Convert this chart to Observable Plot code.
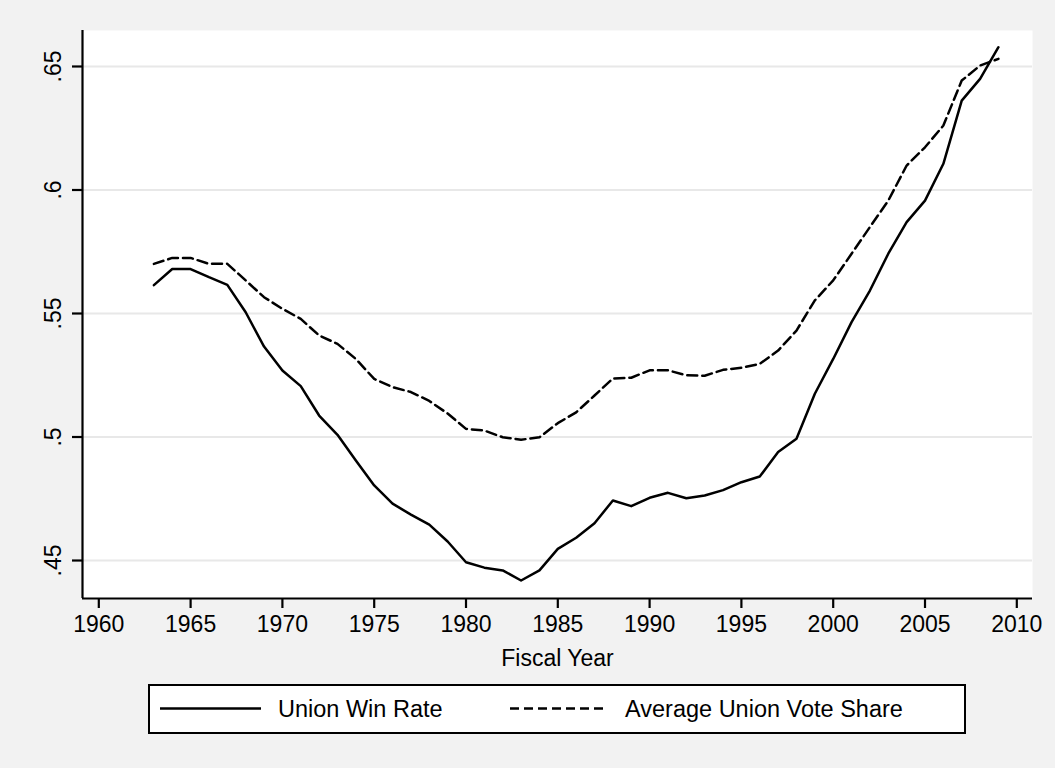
<!DOCTYPE html>
<html>
<head>
<meta charset="utf-8">
<script src="https://cdn.jsdelivr.net/npm/d3@7"></script>
<script src="https://cdn.jsdelivr.net/npm/@observablehq/plot@0.6"></script>
<style>
html, body { margin: 0; padding: 0; background: #f2f2f2; }
body { width: 1055px; height: 768px; overflow: hidden; position: relative; font-family: "Liberation Sans", Arial, sans-serif; }
#chart { position: absolute; left: 0; top: 0; }
#legend { position: absolute; left: 148px; top: 684px; width: 818px; height: 50px; box-sizing: border-box; border: 2px solid #000; background: #fff; }
#legend svg { position: absolute; left: 0; top: 0; }
</style>
</head>
<body>
<div id="chart"></div>
<div id="legend"></div>
<script>
const years = [1963,1964,1965,1966,1967,1968,1969,1970,1971,1972,1973,1974,1975,1976,1977,1978,1979,1980,1981,1982,1983,1984,1985,1986,1987,1988,1989,1990,1991,1992,1993,1994,1995,1996,1997,1998,1999,2000,2001,2002,2003,2004,2005,2006,2007,2008,2009];
const winRate = [0.5615,0.568,0.568,0.5647,0.5616,0.5505,0.5366,0.5269,0.5206,0.5087,0.5009,0.4905,0.4804,0.473,0.4686,0.4645,0.4577,0.4493,0.4471,0.446,0.4419,0.446,0.4547,0.4592,0.4651,0.4743,0.472,0.4754,0.4774,0.4752,0.4763,0.4785,0.4817,0.484,0.4939,0.4993,0.5175,0.5316,0.5465,0.5593,0.5742,0.587,0.5957,0.6106,0.6362,0.645,0.6578];
const voteShare = [0.5701,0.5725,0.5725,0.5701,0.5701,0.5634,0.5566,0.5519,0.5478,0.5411,0.5377,0.5316,0.5235,0.5202,0.5182,0.5146,0.5095,0.5033,0.5026,0.4999,0.4989,0.4999,0.5056,0.51,0.5168,0.5237,0.524,0.527,0.527,0.525,0.5248,0.5272,0.528,0.5296,0.535,0.5431,0.5553,0.5634,0.5742,0.585,0.5957,0.6099,0.6173,0.6261,0.6443,0.6504,0.6531];
const seriesNames = ["Union Win Rate", "Average Union Vote Share"];
const xTicks = [1960,1965,1970,1975,1980,1985,1990,1995,2000,2005,2010];
const yTicks = [0.45,0.5,0.55,0.6,0.65];
const xLabel = "Fiscal Year";

const xDomain = [1959.112, 2010.855];
const yDomain = [0.43462, 0.66457];
const fmtY = d => d3.format(".2~f")(d).replace(/^0/, "");

const chart = Plot.plot({
  width: 1055,
  height: 680,
  marginLeft: 82,
  marginRight: 23,
  marginTop: 30,
  marginBottom: 82,
  style: { background: "transparent", fontFamily: "'Liberation Sans', Arial, sans-serif", fontSize: "22.5px", color: "#000" },
  x: { domain: xDomain },
  y: { domain: yDomain },
  marks: [
    Plot.frame({ fill: "white", stroke: null }),
    Plot.gridY(yTicks, { stroke: "#e8e8e8", strokeOpacity: 1, strokeWidth: 2 }),
    Plot.line(years, { x: d => d, y: (d, i) => winRate[i], stroke: "#000", strokeWidth: 2.5 }),
    Plot.line(years, { x: d => d, y: (d, i) => voteShare[i], stroke: "#000", strokeWidth: 2.5, strokeDasharray: "10,5" }),
    Plot.axisX(xTicks, { tickSize: 10, tickPadding: 7, strokeWidth: 2.2, tickFormat: d => String(d), label: xLabel, labelAnchor: "center", labelArrow: "none", labelOffset: 67, fontSize: 23 }),
    Plot.axisY(yTicks, { tickSize: 10, tickPadding: 12, tickRotate: -90, strokeWidth: 2.2, tickFormat: fmtY, label: null, fontSize: 23 }),
    Plot.ruleX([xDomain[0]], { stroke: "#000", strokeWidth: 2.2 }),
    Plot.ruleY([yDomain[0]], { stroke: "#000", strokeWidth: 2.2 })
  ]
});
document.getElementById("chart").appendChild(chart);

// legend
const ns = "http://www.w3.org/2000/svg";
const lg = document.createElementNS(ns, "svg");
lg.setAttribute("width", 814);
lg.setAttribute("height", 46);
const items = [
  { x1: 10, x2: 111, tx: 128, dash: null, name: seriesNames[0] },
  { x1: 360, x2: 457, tx: 475, dash: "9,5", name: seriesNames[1] }
];
for (const it of items) {
  const l = document.createElementNS(ns, "line");
  l.setAttribute("x1", it.x1); l.setAttribute("x2", it.x2);
  l.setAttribute("y1", 22.5); l.setAttribute("y2", 22.5);
  l.setAttribute("stroke", "#000"); l.setAttribute("stroke-width", 2.5);
  if (it.dash) l.setAttribute("stroke-dasharray", it.dash);
  lg.appendChild(l);
  const t = document.createElementNS(ns, "text");
  t.setAttribute("x", it.tx); t.setAttribute("y", 30.7);
  t.setAttribute("font-size", "23.5px");
  t.setAttribute("font-family", "'Liberation Sans', Arial, sans-serif");
  t.textContent = it.name;
  lg.appendChild(t);
}
document.getElementById("legend").appendChild(lg);
</script>
</body>
</html>
